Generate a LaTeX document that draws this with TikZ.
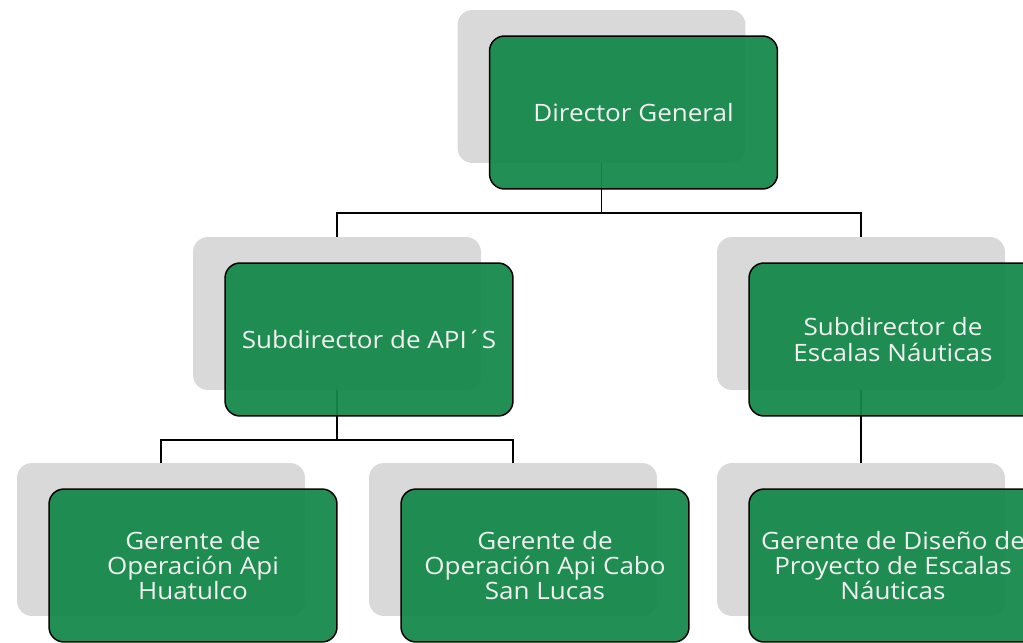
\documentclass[tikz,border=0pt]{standalone}
\usepackage{fontspec}
\setmainfont{Open Sans}
\newfontfamily\boxfont[FakeStretch=1.09]{Open Sans}
\usepackage{tikz}
\definecolor{boxgreen}{RGB}{20,136,74}
\definecolor{shadowgray}{RGB}{217,217,217}

\begin{document}
\begin{tikzpicture}[x=0.02cm,y=-0.02cm,
  shadowbox/.style={fill=shadowgray,rounded corners=0.3cm,minimum width=5.76cm,minimum height=3.06cm,inner sep=0pt},
  greenbox/.style={fill=boxgreen,fill opacity=0.94,text opacity=1,draw=black,line width=0.85pt,rounded corners=0.3cm,
    minimum width=5.76cm,minimum height=3.06cm,align=center,text=white!94!black,
    font=\boxfont\fontsize{13.6}{14.3}\selectfont},
  link/.style={draw=black,line width=0.85pt}]
\useasboundingbox (0,0) rectangle (1023,642);

% shadows
\node[shadowbox] (dgs) at (601.5,86.5) {};
\node[shadowbox] (sas) at (337,313.5) {};
\node[shadowbox] (ses) at (861,313.5) {};
\node[shadowbox] (ghs) at (161,539.5) {};
\node[shadowbox] (gcs) at (513,539.5) {};
\node[shadowbox] (gds) at (861,539.5) {};

% links
\coordinate (j1) at (601.5,213);
\coordinate (j2) at (337,440);
\draw[link] (dgs.south) -- (j1) -| (sas.north);
\draw[link] (j1) -| (ses.north);
\draw[link] (sas.south) -- (j2) -| (ghs.north);
\draw[link] (j2) -| (gcs.north);
\draw[link] (ses.south) -- (gds.north);

% boxes
\node[greenbox] (dg) at ([shift={(32,26)}]dgs.center) {Director General};
\node[greenbox] (sa) at ([shift={(32,26)}]sas.center) {Subdirector de API´S};
\node[greenbox] (se) at ([shift={(32,26)}]ses.center) {Subdirector de\\Escalas Náuticas};
\node[greenbox] (gh) at ([shift={(32,26)}]ghs.center) {Gerente de\\Operación Api\\Huatulco};
\node[greenbox] (gc) at ([shift={(32,26)}]gcs.center) {Gerente de\\Operación Api Cabo\\San Lucas};
\node[greenbox] (gd) at ([shift={(32,26)}]gds.center) {Gerente de Diseño de\\Proyecto de Escalas\\Náuticas};
\end{tikzpicture}
\end{document}
